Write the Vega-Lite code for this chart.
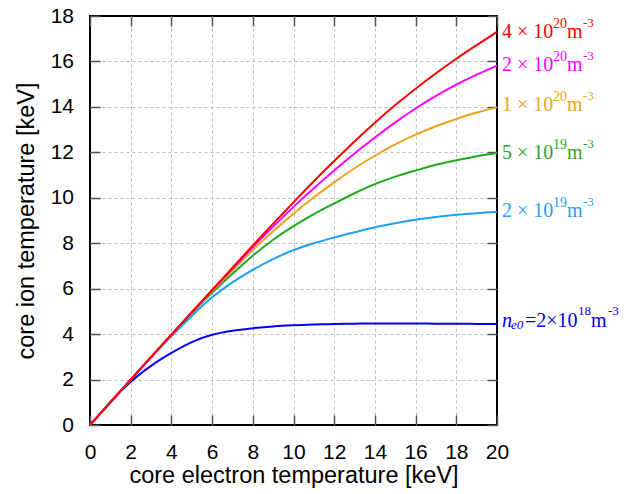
{
  "$schema": "https://vega.github.io/schema/vega-lite/v6.json",
  "width": 407,
  "height": 409,
  "autosize": {"type": "none"},
  "padding": {"left": 90, "top": 16, "right": 138, "bottom": 69},
  "background": "white",
  "config": {
    "view": {"stroke": "black", "strokeWidth": 2},
    "axis": {
      "labelFont": "Liberation Sans",
      "labelFontSize": 21,
      "labelColor": "black",
      "titleFont": "Liberation Sans",
      "titleFontSize": 23.5,
      "titleFontWeight": "normal",
      "titleColor": "black",
      "domain": false,
      "labelFlush": false,
      "labelOverlap": false,
      "gridDash": [3, 3],
      "gridColor": "#bdbdbd",
      "gridWidth": 1
    }
  },
  "datasets": {
    "curves": [
      {"series":"2e18","Te":0,"Ti":0},{"series":"2e18","Te":1,"Ti":0.99},{"series":"2e18","Te":2,"Ti":1.9},{"series":"2e18","Te":3,"Ti":2.6},{"series":"2e18","Te":4,"Ti":3.17},{"series":"2e18","Te":5,"Ti":3.65},{"series":"2e18","Te":6,"Ti":3.97},{"series":"2e18","Te":7,"Ti":4.15},{"series":"2e18","Te":8,"Ti":4.26},{"series":"2e18","Te":9,"Ti":4.34},{"series":"2e18","Te":10,"Ti":4.39},{"series":"2e18","Te":11,"Ti":4.42},{"series":"2e18","Te":12,"Ti":4.45},{"series":"2e18","Te":13,"Ti":4.46},{"series":"2e18","Te":14,"Ti":4.47},{"series":"2e18","Te":15,"Ti":4.47},{"series":"2e18","Te":16,"Ti":4.47},{"series":"2e18","Te":17,"Ti":4.46},{"series":"2e18","Te":18,"Ti":4.46},{"series":"2e18","Te":19,"Ti":4.45},{"series":"2e18","Te":20,"Ti":4.44},
      {"series":"2e19","Te":0,"Ti":0},{"series":"2e19","Te":1,"Ti":1},{"series":"2e19","Te":2,"Ti":1.99},{"series":"2e19","Te":3,"Ti":2.97},{"series":"2e19","Te":4,"Ti":3.9},{"series":"2e19","Te":5,"Ti":4.8},{"series":"2e19","Te":6,"Ti":5.62},{"series":"2e19","Te":7,"Ti":6.28},{"series":"2e19","Te":8,"Ti":6.83},{"series":"2e19","Te":9,"Ti":7.3},{"series":"2e19","Te":10,"Ti":7.7},{"series":"2e19","Te":11,"Ti":8.0},{"series":"2e19","Te":12,"Ti":8.25},{"series":"2e19","Te":13,"Ti":8.48},{"series":"2e19","Te":14,"Ti":8.7},{"series":"2e19","Te":15,"Ti":8.88},{"series":"2e19","Te":16,"Ti":9.03},{"series":"2e19","Te":17,"Ti":9.15},{"series":"2e19","Te":18,"Ti":9.25},{"series":"2e19","Te":19,"Ti":9.32},{"series":"2e19","Te":20,"Ti":9.37},
      {"series":"5e19","Te":0,"Ti":0},{"series":"5e19","Te":1,"Ti":1},{"series":"5e19","Te":2,"Ti":2},{"series":"5e19","Te":3,"Ti":2.99},{"series":"5e19","Te":4,"Ti":3.96},{"series":"5e19","Te":5,"Ti":4.92},{"series":"5e19","Te":6,"Ti":5.82},{"series":"5e19","Te":7,"Ti":6.66},{"series":"5e19","Te":8,"Ti":7.45},{"series":"5e19","Te":9,"Ti":8.15},{"series":"5e19","Te":10,"Ti":8.75},{"series":"5e19","Te":11,"Ti":9.28},{"series":"5e19","Te":12,"Ti":9.75},{"series":"5e19","Te":13,"Ti":10.2},{"series":"5e19","Te":14,"Ti":10.6},{"series":"5e19","Te":15,"Ti":10.93},{"series":"5e19","Te":16,"Ti":11.2},{"series":"5e19","Te":17,"Ti":11.45},{"series":"5e19","Te":18,"Ti":11.65},{"series":"5e19","Te":19,"Ti":11.83},{"series":"5e19","Te":20,"Ti":11.97},
      {"series":"1e20","Te":0,"Ti":0},{"series":"1e20","Te":1,"Ti":1},{"series":"1e20","Te":2,"Ti":2},{"series":"1e20","Te":3,"Ti":2.99},{"series":"1e20","Te":4,"Ti":3.97},{"series":"1e20","Te":5,"Ti":4.94},{"series":"1e20","Te":6,"Ti":5.88},{"series":"1e20","Te":7,"Ti":6.8},{"series":"1e20","Te":8,"Ti":7.7},{"series":"1e20","Te":9,"Ti":8.53},{"series":"1e20","Te":10,"Ti":9.3},{"series":"1e20","Te":11,"Ti":10.02},{"series":"1e20","Te":12,"Ti":10.68},{"series":"1e20","Te":13,"Ti":11.3},{"series":"1e20","Te":14,"Ti":11.85},{"series":"1e20","Te":15,"Ti":12.35},{"series":"1e20","Te":16,"Ti":12.78},{"series":"1e20","Te":17,"Ti":13.15},{"series":"1e20","Te":18,"Ti":13.47},{"series":"1e20","Te":19,"Ti":13.75},{"series":"1e20","Te":20,"Ti":13.98},
      {"series":"2e20","Te":0,"Ti":0},{"series":"2e20","Te":1,"Ti":1},{"series":"2e20","Te":2,"Ti":2},{"series":"2e20","Te":3,"Ti":2.99},{"series":"2e20","Te":4,"Ti":3.98},{"series":"2e20","Te":5,"Ti":4.96},{"series":"2e20","Te":6,"Ti":5.92},{"series":"2e20","Te":7,"Ti":6.88},{"series":"2e20","Te":8,"Ti":7.83},{"series":"2e20","Te":9,"Ti":8.73},{"series":"2e20","Te":10,"Ti":9.6},{"series":"2e20","Te":11,"Ti":10.42},{"series":"2e20","Te":12,"Ti":11.2},{"series":"2e20","Te":13,"Ti":11.95},{"series":"2e20","Te":14,"Ti":12.65},{"series":"2e20","Te":15,"Ti":13.32},{"series":"2e20","Te":16,"Ti":13.93},{"series":"2e20","Te":17,"Ti":14.48},{"series":"2e20","Te":18,"Ti":14.98},{"series":"2e20","Te":19,"Ti":15.42},{"series":"2e20","Te":20,"Ti":15.82},
      {"series":"4e20","Te":0,"Ti":0},{"series":"4e20","Te":1,"Ti":1},{"series":"4e20","Te":2,"Ti":2},{"series":"4e20","Te":3,"Ti":2.99},{"series":"4e20","Te":4,"Ti":3.98},{"series":"4e20","Te":5,"Ti":4.96},{"series":"4e20","Te":6,"Ti":5.94},{"series":"4e20","Te":7,"Ti":6.92},{"series":"4e20","Te":8,"Ti":7.9},{"series":"4e20","Te":9,"Ti":8.86},{"series":"4e20","Te":10,"Ti":9.8},{"series":"4e20","Te":11,"Ti":10.73},{"series":"4e20","Te":12,"Ti":11.62},{"series":"4e20","Te":13,"Ti":12.48},{"series":"4e20","Te":14,"Ti":13.3},{"series":"4e20","Te":15,"Ti":14.08},{"series":"4e20","Te":16,"Ti":14.8},{"series":"4e20","Te":17,"Ti":15.48},{"series":"4e20","Te":18,"Ti":16.12},{"series":"4e20","Te":19,"Ti":16.72},{"series":"4e20","Te":20,"Ti":17.3}
    ],
    "labels": [
      {"series":"4e20","Te":20,"ly":17.35,"base":"4 × 10","exp":"20"},
      {"series":"2e20","Te":20,"ly":15.89,"base":"2 × 10","exp":"20"},
      {"series":"1e20","Te":20,"ly":14.12,"base":"1 × 10","exp":"20"},
      {"series":"5e19","Te":20,"ly":12.03,"base":"5 × 10","exp":"19"},
      {"series":"2e19","Te":20,"ly":9.46,"base":"2 × 10","exp":"19"}
    ],
    "bluelabel": [
      {"series":"2e18","Te":20,"ly":4.64}
    ]
  },
  "layer": [
    {
      "data": {"name": "curves"},
      "mark": {"type": "line", "strokeWidth": 2, "interpolate": "monotone"},
      "encoding": {
        "x": {"field": "Te", "type": "quantitative",
              "scale": {"domain": [0, 20], "nice": false},
              "axis": {"orient": "bottom", "values": [0,2,4,6,8,10,12,14,16,18,20], "grid": true,
                       "ticks": true, "tickSize": -10, "tickWidth": 1.5, "tickColor": "#555555", "tickOpacity": 1, "tickDash": [],
                       "gridOpacity": {"condition": {"test": "datum.value === 0 || datum.value === 20", "value": 0}, "value": 1},
                       "title": "core electron temperature [keV]", "titleY": 57.5, "titleBaseline": "alphabetic",
                       "labelPadding": 26}},
        "y": {"field": "Ti", "type": "quantitative",
              "scale": {"domain": [0, 18], "nice": false},
              "axis": {"orient": "left", "values": [0,2,4,6,8,10,12,14,16,18], "grid": true,
                       "ticks": true, "tickSize": -10, "tickWidth": 1.5, "tickColor": "#555555", "tickOpacity": 1, "tickDash": [],
                       "gridOpacity": {"condition": {"test": "datum.value === 0 || datum.value === 18", "value": 0}, "value": 1},
                       "title": "core ion temperature [keV]", "titleX": -56.5, "titleY": 204.5,
                       "titleBaseline": "alphabetic", "titleAlign": "center", "titleAngle": -90,
                       "labelPadding": 26.5}},
        "color": {"field": "series", "type": "nominal",
                  "scale": {"domain": ["2e18","2e19","5e19","1e20","2e20","4e20"],
                            "range": ["#0000ff","#1ea0f5","#1eaa1e","#eca31c","#ff00ff","#ff0000"]},
                  "legend": null}
      }
    },
    {
      "data": {"name": "curves"},
      "mark": {"type": "line", "opacity": 0},
      "encoding": {
        "x": {"field": "Te", "type": "quantitative",
              "axis": {"orient": "top", "values": [0,2,4,6,8,10,12,14,16,18,20],
                       "ticks": true, "tickSize": -10, "tickWidth": 1.5, "tickColor": "#555555", "tickOpacity": 1, "tickDash": [],
                       "grid": false, "labels": false, "title": null}},
        "y": {"field": "Ti", "type": "quantitative",
              "axis": {"orient": "right", "values": [0,2,4,6,8,10,12,14,16,18],
                       "ticks": true, "tickSize": -10, "tickWidth": 1.5, "tickColor": "#555555", "tickOpacity": 1, "tickDash": [],
                       "grid": false, "labels": false, "title": null}},
        "detail": {"field": "series"}
      }
    },
    {
      "data": {"name": "labels"},
      "mark": {"type": "text", "font": "Liberation Serif", "fontSize": 20, "align": "left", "baseline": "alphabetic", "dx": 5, "dy": 7},
      "encoding": {
        "x": {"field": "Te", "type": "quantitative", "axis": null},
        "y": {"field": "ly", "type": "quantitative", "axis": null},
        "text": {"field": "base"},
        "color": {"field": "series", "type": "nominal", "legend": null}
      }
    },
    {
      "data": {"name": "labels"},
      "mark": {"type": "text", "font": "Liberation Serif", "fontSize": 14, "align": "left", "baseline": "alphabetic", "dx": 56, "dy": -3},
      "encoding": {
        "x": {"field": "Te", "type": "quantitative", "axis": null},
        "y": {"field": "ly", "type": "quantitative", "axis": null},
        "text": {"field": "exp"},
        "color": {"field": "series", "type": "nominal", "legend": null}
      }
    },
    {
      "data": {"name": "labels"},
      "mark": {"type": "text", "font": "Liberation Serif", "fontSize": 20, "align": "left", "baseline": "alphabetic", "dx": 70, "dy": 7},
      "encoding": {
        "x": {"field": "Te", "type": "quantitative", "axis": null},
        "y": {"field": "ly", "type": "quantitative", "axis": null},
        "text": {"value": "m"},
        "color": {"field": "series", "type": "nominal", "legend": null}
      }
    },
    {
      "data": {"name": "labels"},
      "mark": {"type": "text", "font": "Liberation Serif", "fontSize": 13, "align": "left", "baseline": "alphabetic", "dx": 86, "dy": -4},
      "encoding": {
        "x": {"field": "Te", "type": "quantitative", "axis": null},
        "y": {"field": "ly", "type": "quantitative", "axis": null},
        "text": {"value": "-3"},
        "color": {"field": "series", "type": "nominal", "legend": null}
      }
    },
    {
      "data": {"name": "bluelabel"},
      "mark": {"type": "text", "font": "Liberation Serif", "fontSize": 20, "fontStyle": "italic", "align": "left", "baseline": "alphabetic", "dx": 5, "dy": 7},
      "encoding": {
        "x": {"field": "Te", "type": "quantitative", "axis": null},
        "y": {"field": "ly", "type": "quantitative", "axis": null},
        "text": {"value": "n"},
        "color": {"field": "series", "type": "nominal", "legend": null}
      }
    },
    {
      "data": {"name": "bluelabel"},
      "mark": {"type": "text", "font": "Liberation Serif", "fontSize": 13, "fontStyle": "italic", "align": "left", "baseline": "alphabetic", "dx": 14, "dy": 9},
      "encoding": {
        "x": {"field": "Te", "type": "quantitative", "axis": null},
        "y": {"field": "ly", "type": "quantitative", "axis": null},
        "text": {"value": "e0"},
        "color": {"field": "series", "type": "nominal", "legend": null}
      }
    },
    {
      "data": {"name": "bluelabel"},
      "mark": {"type": "text", "font": "Liberation Serif", "fontSize": 20, "align": "left", "baseline": "alphabetic", "dx": 28, "dy": 7},
      "encoding": {
        "x": {"field": "Te", "type": "quantitative", "axis": null},
        "y": {"field": "ly", "type": "quantitative", "axis": null},
        "text": {"value": "=2×10"},
        "color": {"field": "series", "type": "nominal", "legend": null}
      }
    },
    {
      "data": {"name": "bluelabel"},
      "mark": {"type": "text", "font": "Liberation Serif", "fontSize": 13, "align": "left", "baseline": "alphabetic", "dx": 81, "dy": -5},
      "encoding": {
        "x": {"field": "Te", "type": "quantitative", "axis": null},
        "y": {"field": "ly", "type": "quantitative", "axis": null},
        "text": {"value": "18"},
        "color": {"field": "series", "type": "nominal", "legend": null}
      }
    },
    {
      "data": {"name": "bluelabel"},
      "mark": {"type": "text", "font": "Liberation Serif", "fontSize": 20, "align": "left", "baseline": "alphabetic", "dx": 94, "dy": 7},
      "encoding": {
        "x": {"field": "Te", "type": "quantitative", "axis": null},
        "y": {"field": "ly", "type": "quantitative", "axis": null},
        "text": {"value": "m"},
        "color": {"field": "series", "type": "nominal", "legend": null}
      }
    },
    {
      "data": {"name": "bluelabel"},
      "mark": {"type": "text", "font": "Liberation Serif", "fontSize": 13, "align": "left", "baseline": "alphabetic", "dx": 111, "dy": -5},
      "encoding": {
        "x": {"field": "Te", "type": "quantitative", "axis": null},
        "y": {"field": "ly", "type": "quantitative", "axis": null},
        "text": {"value": "-3"},
        "color": {"field": "series", "type": "nominal", "legend": null}
      }
    }
  ],
  "resolve": {"axis": {"x": "independent", "y": "independent"}}
}
